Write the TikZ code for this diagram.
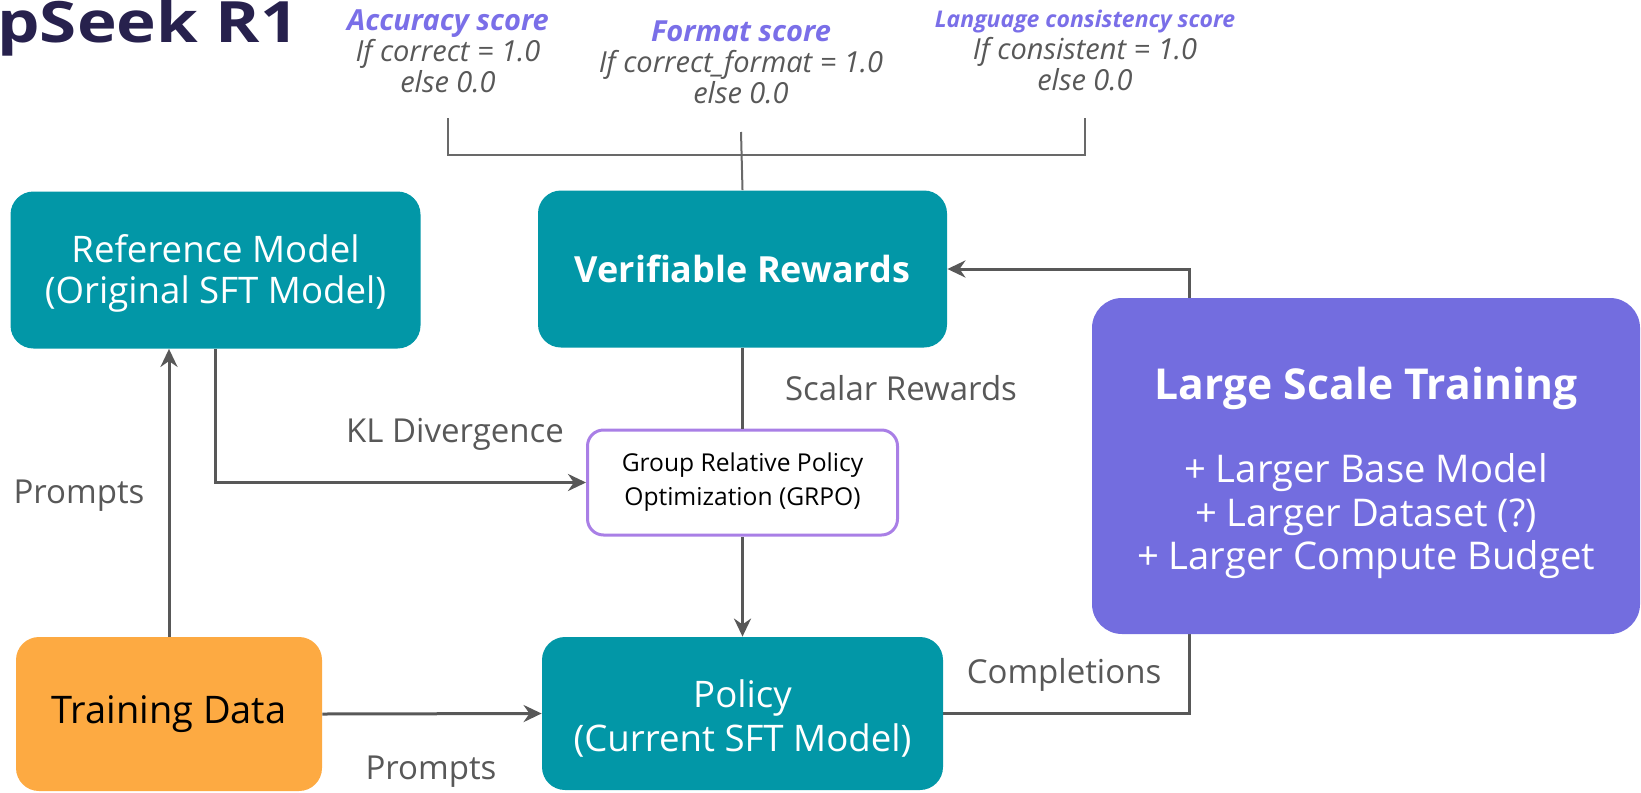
\documentclass[tikz,border=0pt]{standalone}
\usepackage{fontspec}
\setmainfont{Open Sans}
\newfontfamily\titlefont[FakeStretch=1.18]{Open Sans}
\usetikzlibrary{arrows.meta,backgrounds}
\definecolor{modelteal}{HTML}{0297A7}
\definecolor{dataorange}{HTML}{FDAA42}
\definecolor{scalepurple}{HTML}{736DDF}
\definecolor{grpoline}{HTML}{A97FE6}
\definecolor{scorehead}{HTML}{7A6FE8}
\definecolor{ink}{HTML}{585858}
\definecolor{titleink}{HTML}{27214D}
\tikzset{
  >={Stealth[length=9pt,width=8.5pt]},
  every node/.style={inner sep=0pt},
  box/.style={rounded corners=11.5pt,fill=modelteal,text=white,align=center,
    font=\fontsize{18.3}{20.5}\selectfont},
  databox/.style={box,fill=dataorange,text=black,font=\fontsize{19}{22}\selectfont},
  grpobox/.style={draw=grpoline,line width=1.5pt,rounded corners=8pt,fill=white,
    align=center,font=\fontsize{12.3}{17}\selectfont,minimum width=155pt,minimum height=52.5pt},
  scalebox/.style={box,fill=scalepurple,rounded corners=15pt,font=\fontsize{19.1}{21.7}\selectfont},
  score/.style={align=center,text=ink,font=\fontsize{14.5}{15.7}\selectfont\itshape},
  label/.style={text=ink,font=\fontsize{16.5}{18}\selectfont},
  arrow/.style={->,line width=1.5pt,draw=ink},
  link/.style={line width=1.5pt,draw=ink},
  bracket/.style={line width=1pt,draw=ink!90},
}
\newcommand{\scoretitle}[1]{{\color{scorehead}\bfseries #1}}
\newcommand{\lift}[1]{\rule{0pt}{#1}}

\begin{document}
\begin{tikzpicture}[x=0.5pt,y=-0.5pt]
  \useasboundingbox (0,0) rectangle (1641,792);
  \node[anchor=base west,text=titleink,font=\titlefont\fontsize{28.5}{28.5}\selectfont\bfseries] (title) at (-3,43) {pSeek R1};

  % reward terms
  \node[score,anchor=north] (acc) at (448,9) {\scoretitle{Accuracy score}\\If correct = 1.0\\else 0.0};
  \node[score,anchor=north] (fmt) at (741,20) {\scoretitle{Format score}\\If correct\_format = 1.0\\else 0.0};
  \node[score,anchor=north] (lang) at (1085,10) {{\fontsize{11.5}{15.7}\selectfont\scoretitle{Language consistency score}}\\If consistent = 1.0\\else 0.0};
  \coordinate (accfoot) at (448,118);
  \coordinate (fmtfoot) at (741,132);
  \coordinate (langfoot) at (1085,118);
  \coordinate (hub) at (741,155);
  \coordinate (loop) at (1189,269);

  \node[box,minimum width=205pt,minimum height=78.5pt] (ref) at (215.5,270) {\lift{17pt}Reference Model\\(Original SFT Model)};
  \node[box,minimum width=204.5pt,minimum height=78.5pt,font=\fontsize{18}{20.5}\selectfont\bfseries] (verif) at (742.5,269) {Verifiable Rewards};
  \node[grpobox] (grpo) at (742.5,482.5) {Group Relative Policy\\Optimization (GRPO)};
  \node[box,minimum width=200.5pt,minimum height=76.5pt,font=\fontsize{18.3}{22}\selectfont] (policy) at (742.5,713.5) {\lift{19pt}Policy\\(Current SFT Model)};
  \node[databox,minimum width=153pt,minimum height=77pt] (train) at (169,714) {Training Data};
  \node[scalebox,minimum width=274pt,minimum height=168pt] (scale) at (1366,466)
    {{\fontsize{21.3}{24}\selectfont\bfseries\lift{23pt}Large Scale Training}\\[20pt]
     + Larger Base Model\\+ Larger Dataset (?)\\+ Larger Compute Budget};

  \draw[bracket] (accfoot) |- (hub) -| (langfoot);
  \draw[bracket] (fmtfoot) -- (verif.north);

  \draw[arrow] (train.north) -- (train.north |- ref.south);
  \draw[arrow] (ref.south) |- (grpo.west);
  \draw[link] (verif.south) -- (grpo.north);
  \draw[arrow] (grpo.south) -- (policy.north);
  \draw[arrow] (train.east) -- (policy.west);
  \begin{scope}[on background layer]
    \draw[arrow] (policy.east) -| (loop) -- (verif.east);
  \end{scope}

  \node[label] (lprompt) at (79,496) {Prompts};
  \node[label] (lkl) at (455,434) {KL Divergence};
  \node[label] (lscalar) at (901,388) {Scalar Rewards};
  \node[label] (lcompl) at (1064,675) {Completions};
  \node[label] (bprompt) at (431,772) {Prompts};
\end{tikzpicture}
\end{document}
